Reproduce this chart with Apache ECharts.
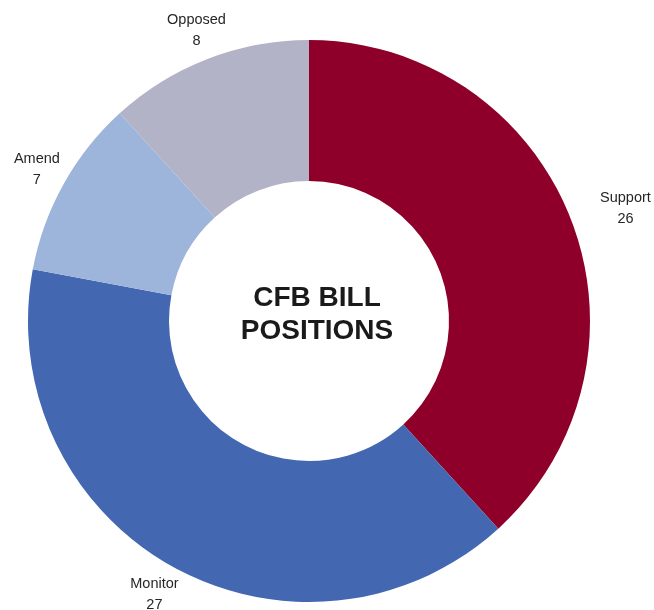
<!DOCTYPE html>
<html>
<head>
<meta charset="utf-8">
<script src="https://cdn.jsdelivr.net/npm/echarts@6/dist/echarts.min.js"></script>
<style>html,body{margin:0;padding:0;background:#fff}#c{width:654px;height:610px}</style>
</head>
<body>
<div id="c"></div>
<script>
const categories = ['Support', 'Monitor', 'Amend', 'Opposed'];
const values = [26, 27, 7, 8];
const colors = ['#8E0029', '#4367B0', '#9DB5DB', '#B2B3C6'];
const centerTitle = 'CFB BILL\nPOSITIONS';

const data = categories.map((n, i) => ({ name: n, value: values[i], itemStyle: { color: colors[i] } }));
const labelData = categories.map((n, i) => ({ name: n, value: values[i] }));

const chart = echarts.init(document.getElementById('c'));
chart.setOption({
  animation: false,
  series: [
    {
      type: 'pie',
      center: [309, 321],
      radius: [140, 281],
      startAngle: 90,
      clockwise: true,
      label: { show: false },
      labelLine: { show: false },
      silent: true,
      data: data
    },
    {
      type: 'pie',
      center: [309, 321],
      radius: [281, 336],
      startAngle: 90,
      clockwise: true,
      itemStyle: { color: 'rgba(0,0,0,0)' },
      silent: true,
      label: {
        show: true,
        position: 'inside',
        formatter: '{b}\n{c}',
        fontFamily: 'Liberation Sans, Arial, sans-serif',
        fontSize: 14.5,
        lineHeight: 21,
        color: '#262626'
      },
      labelLine: { show: false },
      labelLayout: function (p) {
        if (p.dataIndex === 0) return { dx: 26, dy: 0 };
        if (p.dataIndex === 1) return { dx: -3, dy: 1 };
        return {};
      },
      data: labelData
    }
  ],
  graphic: [{
    type: 'text',
    x: 317,
    y: 315,
    style: {
      text: centerTitle,
      align: 'center',
      verticalAlign: 'middle',
      fontFamily: 'Liberation Sans, Arial, sans-serif',
      fontWeight: 'bold',
      fontSize: 28,
      lineHeight: 33,
      fill: '#1a1a1a'
    }
  }]
});
</script>
</body>
</html>
